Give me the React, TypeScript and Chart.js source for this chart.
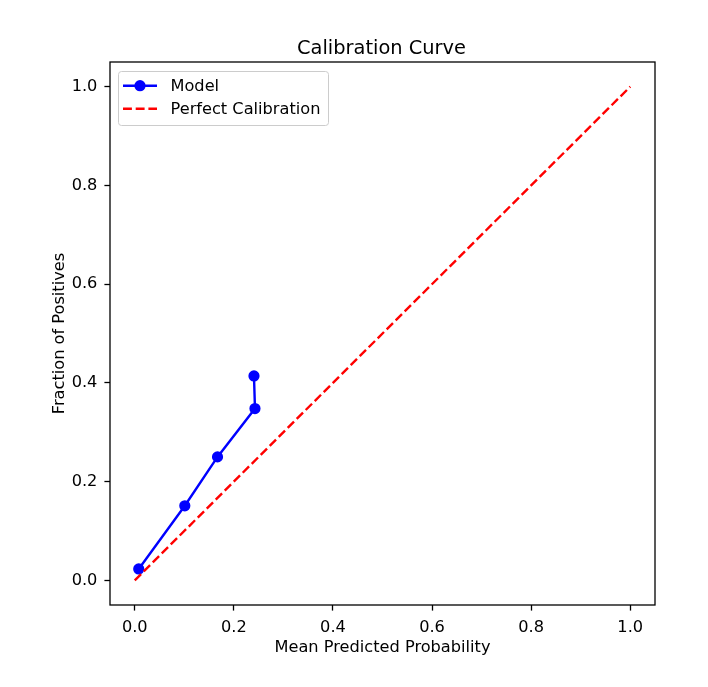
import React, { useEffect, useRef } from "react";
import { Chart, registerables } from "chart.js";

Chart.register(...registerables);

// Binned calibration results: mean predicted probability vs. observed fraction of positives
const meanPredicted = [0.008, 0.101, 0.167, 0.2426, 0.2406];
const fractionPositives = [0.023, 0.151, 0.25, 0.348, 0.414];

// Reference diagonal
const perfectX = [0, 1];
const perfectY = [0, 1];

const xTicks = [0, 0.2, 0.4, 0.6, 0.8, 1.0];
const yTicks = [0, 0.2, 0.4, 0.6, 0.8, 1.0];

const chartTitle = "Calibration Curve";
const xAxisTitle = "Mean Predicted Probability";
const yAxisTitle = "Fraction of Positives";
const modelLabel = "Model";
const perfectLabel = "Perfect Calibration";

const FONT = "'DejaVu Sans', 'Liberation Sans', sans-serif";
const TEXT = "#000000";
const LABEL_SIZE = 16.2;
const TITLE_SIZE = 19.4;

const decorations = {
  id: "decorations",
  afterDraw(chart: any) {
    const { ctx, chartArea } = chart;
    const { left, right, top, bottom } = chartArea;
    ctx.save();

    // axes frame
    ctx.strokeStyle = "#000";
    ctx.lineWidth = 1.3;
    ctx.strokeRect(left, top, right - left, bottom - top);

    const cx = (left + right) / 2;
    ctx.fillStyle = TEXT;
    ctx.textAlign = "center";
    ctx.textBaseline = "alphabetic";

    // title
    ctx.font = `${TITLE_SIZE}px ${FONT}`;
    ctx.fillText(chartTitle, cx - 1, 53.5);

    // x axis title
    ctx.font = `${LABEL_SIZE}px ${FONT}`;
    ctx.fillText(xAxisTitle, cx, 652);

    // y axis title
    ctx.save();
    ctx.translate(63.5, (top + bottom) / 2);
    ctx.rotate(-Math.PI / 2);
    ctx.fillText(yAxisTitle, 0, 0);
    ctx.restore();

    // legend box
    const bx = 118.5, by = 71.5, bw = 210, bh = 54, r = 3;
    ctx.beginPath();
    ctx.moveTo(bx + r, by);
    ctx.lineTo(bx + bw - r, by);
    ctx.quadraticCurveTo(bx + bw, by, bx + bw, by + r);
    ctx.lineTo(bx + bw, by + bh - r);
    ctx.quadraticCurveTo(bx + bw, by + bh, bx + bw - r, by + bh);
    ctx.lineTo(bx + r, by + bh);
    ctx.quadraticCurveTo(bx, by + bh, bx, by + bh - r);
    ctx.lineTo(bx, by + r);
    ctx.quadraticCurveTo(bx, by, bx + r, by);
    ctx.closePath();
    ctx.fillStyle = "rgba(255,255,255,0.8)";
    ctx.fill();
    ctx.strokeStyle = "#cccccc";
    ctx.lineWidth = 1;
    ctx.stroke();

    const ds = chart.data.datasets;
    const rows = [
      { d: ds[0], y: 85.7, base: 91 },
      { d: ds[1], y: 108.7, base: 114 },
    ];
    rows.forEach(({ d, y, base }) => {
      ctx.save();
      ctx.strokeStyle = d.borderColor;
      ctx.lineWidth = d.borderWidth;
      ctx.setLineDash(d.borderDash || []);
      ctx.beginPath();
      ctx.moveTo(123, y);
      ctx.lineTo(157, y);
      ctx.stroke();
      ctx.restore();
      if (d.pointRadius > 0) {
        ctx.beginPath();
        ctx.arc(140, y, d.pointRadius + d.pointBorderWidth / 2, 0, Math.PI * 2);
        ctx.fillStyle = d.backgroundColor;
        ctx.fill();
      }
      ctx.fillStyle = TEXT;
      ctx.textAlign = "left";
      ctx.font = `${LABEL_SIZE}px ${FONT}`;
      ctx.fillText(d.label, 170.5, base);
    });

    ctx.restore();
  },
};

export default function App() {
  const canvasRef = useRef<HTMLCanvasElement>(null);

  useEffect(() => {
    document.body.style.margin = "0";
    const canvas = canvasRef.current;
    if (!canvas) return;

    const axisCommon = {
      type: "linear" as const,
      min: -0.05,
      max: 1.05,
      border: { display: false },
      grid: {
        drawOnChartArea: false,
        drawTicks: true,
        tickLength: 5.6,
        tickWidth: 1.3,
        tickColor: "#000",
      },
      ticks: {
        color: TEXT,
        font: { family: FONT, size: LABEL_SIZE },
        autoSkip: false,
        maxRotation: 0,
        callback: (v: any) => Number(v).toFixed(1),
      },
    };

    const chart = new Chart(canvas, {
      type: "line",
      data: {
        datasets: [
          {
            label: modelLabel,
            data: meanPredicted.map((x, i) => ({ x, y: fractionPositives[i] })),
            borderColor: "#0000ff",
            backgroundColor: "#0000ff",
            borderWidth: 2.4,
            pointRadius: 4.8,
            pointBorderWidth: 1.6,
            pointBackgroundColor: "#0000ff",
            pointBorderColor: "#0000ff",
            tension: 0,
            order: 1,
          },
          {
            label: perfectLabel,
            data: perfectX.map((x, i) => ({ x, y: perfectY[i] })),
            borderColor: "#ff0000",
            backgroundColor: "#ff0000",
            borderWidth: 2.4,
            borderDash: [8.9, 3.8],
            pointRadius: 0,
            pointBorderWidth: 0,
            tension: 0,
            order: 0,
          },
        ] as any,
      },
      options: {
        responsive: false,
        animation: false,
        devicePixelRatio: 1,
        layout: { padding: { top: 62, right: 53, left: 0, bottom: 0 } },
        plugins: {
          legend: { display: false },
          tooltip: { enabled: false },
          title: { display: false },
        },
        scales: {
          x: {
            ...axisCommon,
            ticks: { ...axisCommon.ticks, padding: 7 },
            afterBuildTicks: (s: any) => {
              s.ticks = xTicks.map((value) => ({ value }));
            },
            afterFit: (s: any) => {
              s.height = 82;
            },
          },
          y: {
            ...axisCommon,
            ticks: { ...axisCommon.ticks, padding: 7 },
            afterBuildTicks: (s: any) => {
              s.ticks = yTicks.map((value) => ({ value }));
            },
            afterFit: (s: any) => {
              s.width = 110;
            },
          },
        } as any,
      },
      plugins: [decorations],
    });

    return () => chart.destroy();
  }, []);

  return (
    <div style={{ width: 708, height: 687 }}>
      <canvas
        ref={canvasRef}
        width={708}
        height={687}
        style={{ display: "block", width: 708, height: 687 }}
      />
    </div>
  );
}
